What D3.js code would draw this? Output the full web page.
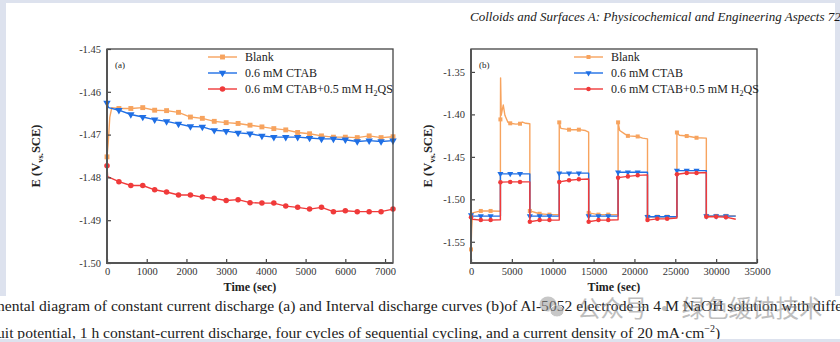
<!DOCTYPE html>
<html>
<head>
<meta charset="utf-8">
<script src="https://cdn.jsdelivr.net/npm/d3@7"></script>
<style>
  body { margin: 0; background: #fff; }
  text { font-family: "Liberation Serif", "Times New Roman", serif; }
</style>
</head>
<body>
<svg id="fig" width="840" height="342"></svg>
<script>
// ---- data ----
// (a) constant current discharge: [time (s), E (V)]
const blankA = [[0,-1.4752],[30,-1.472],[70,-1.466],[120,-1.4637],[300,-1.4639],[600,-1.4639],[900,-1.4637],[1200,-1.4643],[1500,-1.4644],[1800,-1.4648],[2100,-1.4659],[2400,-1.4662],[2700,-1.4669],[3000,-1.4672],[3300,-1.4674],[3600,-1.4678],[3900,-1.4682],[4200,-1.4686],[4500,-1.4689],[4800,-1.4695],[5100,-1.4698],[5400,-1.4703],[5700,-1.4706],[6000,-1.4706],[6300,-1.4707],[6600,-1.4703],[6900,-1.4707],[7200,-1.4705]];
const ctabA = [[0,-1.4626],[40,-1.4637],[300,-1.4643],[600,-1.4653],[900,-1.4659],[1200,-1.4665],[1500,-1.4669],[1800,-1.4675],[2100,-1.4681],[2400,-1.4682],[2700,-1.469],[3000,-1.4692],[3300,-1.4696],[3600,-1.4698],[3900,-1.4703],[4200,-1.4706],[4500,-1.4706],[4800,-1.4706],[5100,-1.4708],[5400,-1.471],[5700,-1.471],[6000,-1.4712],[6300,-1.4716],[6600,-1.4714],[6900,-1.4716],[7200,-1.4714]];
const h2qsA = [[0,-1.4773],[15,-1.4798],[300,-1.481],[600,-1.4819],[900,-1.4819],[1200,-1.4829],[1500,-1.4834],[1800,-1.4841],[2100,-1.4841],[2400,-1.4846],[2700,-1.4849],[3000,-1.4854],[3300,-1.4852],[3600,-1.4859],[3900,-1.486],[4200,-1.486],[4500,-1.4867],[4800,-1.487],[5100,-1.4874],[5400,-1.487],[5700,-1.488],[6000,-1.4878],[6300,-1.488],[6600,-1.488],[6900,-1.488],[7200,-1.4874]];

// (b) interval discharge: [time (s), E (V), has marker]
const blankB = [[0,-1.559,1],[80,-1.535],[200,-1.516],[1200,-1.5137,1],[2400,-1.5137,1],[3600,-1.514],
  [3600,-1.4059,1],[3620,-1.357],[3700,-1.401],[3800,-1.396],[3950,-1.389],[4150,-1.401],[4500,-1.409],[4800,-1.4105,1],[5500,-1.4115],[6000,-1.411,1],[6300,-1.409],[6700,-1.4105],[7200,-1.411],
  [7200,-1.5137,1],[8400,-1.517,1],[9600,-1.518,1],[10800,-1.518],
  [10800,-1.4094,1],[11000,-1.4165],[12000,-1.418,1],[13200,-1.418,1],[14000,-1.419],[14400,-1.421],
  [14400,-1.516,1],[15600,-1.518,1],[16800,-1.518,1],[18000,-1.518],
  [18000,-1.4094,1],[18200,-1.419],[18800,-1.423],[19200,-1.4253,1],[20400,-1.426,1],[21000,-1.428],[21600,-1.4288],
  [21600,-1.5205,1],[22800,-1.5205,1],[24000,-1.5205,1],[25200,-1.5205],
  [25200,-1.4213,1],[25500,-1.4245],[26400,-1.4255,1],[27600,-1.4275,1],[28800,-1.428],
  [28800,-1.5195,1],[30000,-1.5195,1],[31200,-1.5195,1],[32400,-1.5195]];
const ctabB = [[0,-1.5185,1],[100,-1.5198],[1200,-1.5198,1],[2400,-1.5198,1],[3600,-1.5198],
  [3600,-1.47,1],[4800,-1.47,1],[6000,-1.47,1],[7200,-1.47],
  [7200,-1.5198,1],[8400,-1.5198,1],[9600,-1.5198,1],[10800,-1.5198],
  [10800,-1.4692,1],[12000,-1.4692,1],[13200,-1.4692,1],[14400,-1.4692],
  [14400,-1.5198,1],[15600,-1.5198,1],[16800,-1.5198,1],[18000,-1.5198],
  [18000,-1.4681,1],[19200,-1.4681,1],[20400,-1.4681,1],[21600,-1.4681],
  [21600,-1.5205,1],[22800,-1.5205,1],[24000,-1.5205,1],[25200,-1.5205],
  [25200,-1.4662,1],[26400,-1.4662,1],[27600,-1.4662,1],[28800,-1.4662],
  [28800,-1.5198,1],[30000,-1.5198,1],[31200,-1.5198,1],[32400,-1.5198]];
const h2qsB = [[0,-1.521,1],[200,-1.5235],[1200,-1.5245,1],[2400,-1.5245,1],[3600,-1.524],
  [3600,-1.4798,1],[4800,-1.4795,1],[6000,-1.4795,1],[7200,-1.4795],
  [7200,-1.5265,1],[8400,-1.5245,1],[9600,-1.5245,1],[10800,-1.5245],
  [10800,-1.4795,1],[12000,-1.4775,1],[13200,-1.4765,1],[14400,-1.476],
  [14400,-1.5265,1],[15600,-1.5245,1],[16800,-1.5245,1],[18000,-1.524],
  [18000,-1.4745,1],[19200,-1.473,1],[20400,-1.4718,1],[21600,-1.4712],
  [21600,-1.5245,1],[22800,-1.523,1],[24000,-1.523,1],[25200,-1.522],
  [25200,-1.4705,1],[26400,-1.469,1],[27600,-1.469,1],[28800,-1.4685],
  [28800,-1.5205,1],[30000,-1.5205,1],[31200,-1.521,1],[32400,-1.5235]];

const seriesNames = ["Blank", "0.6 mM CTAB", "0.6 mM CTAB+0.5 mM H\u2082QS"];
const ticksAx = [0,1000,2000,3000,4000,5000,6000,7000];
const ticksAy = [-1.45,-1.46,-1.47,-1.48,-1.49,-1.50];
const ticksBx = [0,5000,10000,15000,20000,25000,30000,35000];
const ticksBy = [-1.35,-1.40,-1.45,-1.50,-1.55];

const colors = ["#f7a35e", "#1f6fe5", "#f03a3a"];
const symbols = [d3.symbolSquare, d3.symbolTriangle, d3.symbolCircle];

const svg = d3.select("#fig");

// page frame (viewer background)
svg.append("rect").attr("width", 840).attr("height", 342).attr("fill", "#fff");
svg.append("rect").attr("x", 0).attr("y", 0).attr("width", 840).attr("height", 3).attr("fill", "#dde2ee");
svg.append("rect").attr("x", 0).attr("y", 0).attr("width", 6).attr("height", 296).attr("fill", "#dde2ee");
svg.append("rect").attr("x", 835).attr("y", 0).attr("width", 5).attr("height", 296).attr("fill", "#dde2ee");

svg.append("text").attr("x", 470).attr("y", 21)
  .style("font-style", "italic").style("font-size", "13px").attr("fill", "#1a1a1a")
  .text("Colloids and Surfaces A: Physicochemical and Engineering Aspects 725");

function panel(opt) {
  const x = d3.scaleLinear().domain(opt.xDomain).range([opt.left, opt.right]);
  const y = d3.scaleLinear().domain(opt.yDomain).range([opt.bottom, opt.top]);
  const g = svg.append("g");

  const line = d3.line().x(d => x(d[0])).y(d => y(d[1]));
  opt.data.forEach((s, i) => {
    g.append("path").datum(s).attr("d", line)
      .attr("fill", "none").attr("stroke", colors[i]).attr("stroke-width", 1.4)
      .attr("stroke-linejoin", "round");
    g.selectAll(null).data(s.filter(opt.marked)).enter().append("path")
      .attr("d", d3.symbol().type(symbols[i]).size(opt.markSize))
      .attr("transform", d => `translate(${x(d[0])},${y(d[1])})` + (i === 1 ? " rotate(180)" : ""))
      .attr("fill", colors[i]);
  });

  // frame
  g.append("rect").attr("x", opt.left).attr("y", opt.top)
    .attr("width", opt.right - opt.left).attr("height", opt.bottom - opt.top)
    .attr("fill", "none").attr("stroke", "#444").attr("stroke-width", 1.3);

  const ax = g.append("g").attr("transform", `translate(0,${opt.bottom})`)
    .call(d3.axisBottom(x).tickValues(opt.xTicks).tickSizeInner(-4).tickSizeOuter(0).tickPadding(5).tickFormat(d3.format("d")));
  const ay = g.append("g").attr("transform", `translate(${opt.left},0)`)
    .call(d3.axisLeft(y).tickValues(opt.yTicks).tickSizeInner(-4).tickSizeOuter(0).tickPadding(6).tickFormat(d3.format(".2f")));
  [ax, ay].forEach(a => {
    a.select(".domain").remove();
    a.selectAll(".tick line").attr("stroke", "#444").attr("stroke-width", 1.2);
    a.selectAll(".tick text").attr("fill", "#333")
      .style("font-family", "'Liberation Serif', serif").style("font-size", "10.5px");
  });
  ay.selectAll(".tick text").text(d => d3.format(".2f")(d).replace("\u2212", "-"));

  g.append("line").attr("x1", opt.left).attr("x2", opt.left).attr("y1", opt.top).attr("y2", opt.bottom + 1)
    .attr("stroke", "#555").attr("stroke-width", 2);
  g.append("line").attr("x1", opt.left - 1).attr("x2", opt.right).attr("y1", opt.bottom).attr("y2", opt.bottom)
    .attr("stroke", "#555").attr("stroke-width", 2);

  // titles
  g.append("text").attr("x", (opt.left + opt.right) / 2).attr("y", opt.bottom + 28)
    .attr("text-anchor", "middle").style("font-weight", "bold").style("font-size", "12px").attr("fill", "#222")
    .text("Time (sec)");
  const yt = g.append("text").attr("transform", `translate(${opt.yTitleX},${(opt.top + opt.bottom) / 2}) rotate(-90)`)
    .attr("text-anchor", "middle").style("font-weight", "bold").style("font-size", "12.5px").attr("fill", "#222");
  yt.append("tspan").text("E (V");
  yt.append("tspan").attr("dy", 3).style("font-size", "8.5px").text("vs.");
  yt.append("tspan").attr("dy", -3).text("SCE)");

  g.append("text").attr("x", opt.left + 8).attr("y", 68)
    .style("font-size", "9px").attr("fill", "#222").text(opt.tag);

  // legend
  seriesNames.forEach((name, i) => {
    const ly = opt.legY + i * 16;
    g.append("line").attr("x1", opt.legX).attr("x2", opt.legX + 29).attr("y1", ly).attr("y2", ly)
      .attr("stroke", colors[i]).attr("stroke-width", 1.4);
    g.append("path").attr("d", d3.symbol().type(symbols[i]).size(opt.markSize))
      .attr("transform", `translate(${opt.legX + 14.5},${ly})` + (i === 1 ? " rotate(180)" : ""))
      .attr("fill", colors[i]);
    const t = g.append("text").attr("x", opt.legX + 37).attr("y", ly + 4)
      .style("font-size", "12px").attr("fill", "#222");
    if (i === 2) {
      t.append("tspan").text("0.6 mM CTAB+0.5 mM H");
      t.append("tspan").attr("dy", 3).style("font-size", "8px").text("2");
      t.append("tspan").attr("dy", -3).text("QS");
    } else {
      t.text(name);
    }
  });
}

panel({
  left: 107, right: 393, top: 49, bottom: 263,
  xDomain: [0, 7200], yDomain: [-1.50, -1.45],
  xTicks: ticksAx, yTicks: ticksAy,
  data: [blankA, ctabA, h2qsA],
  marked: d => d[0] % 300 === 0, markSize: 24,
  yTitleX: 40, tag: "(a)", legX: 208, legY: 57
});

panel({
  left: 471, right: 757, top: 49, bottom: 263,
  xDomain: [0, 35000], yDomain: [-1.575, -1.323],
  xTicks: ticksBx, yTicks: ticksBy,
  data: [blankB, ctabB, h2qsB],
  marked: d => d[2] === 1, markSize: 16,
  yTitleX: 432, tag: "(b)", legX: 574, legY: 57
});

// caption (cut by the viewer)
svg.append("text").attr("x", -3).attr("y", 311).style("font-size", "15.6px").attr("fill", "#222")
  .text("nental diagram of constant current discharge (a) and Interval discharge curves (b)of Al-5052 electrode in 4 M NaOH solution with diffe");
const cap2 = svg.append("text").attr("x", -3).attr("y", 338).style("font-size", "15.6px").attr("fill", "#222");
cap2.append("tspan").text("uit potential, 1 h constant-current discharge, four cycles of sequential cycling, and a current density of 20 mA\u00b7cm");
cap2.append("tspan").attr("dy", -6).style("font-size", "10px").text("\u22122");
cap2.append("tspan").attr("dy", 6).text(")");
svg.append("rect").attr("x", 0).attr("y", 339).attr("width", 840).attr("height", 3).attr("fill", "#dde2ee");

// watermark
const wm = svg.append("g").attr("opacity", 0.55);
wm.append("ellipse").attr("cx", 548).attr("cy", 304).attr("rx", 8.5).attr("ry", 7.5).attr("fill", "#9a9a9a");
wm.append("ellipse").attr("cx", 557).attr("cy", 311).attr("rx", 7).attr("ry", 6).attr("fill", "#9a9a9a")
  .attr("stroke", "#fff").attr("stroke-width", 1);
wm.append("text").attr("x", 577).attr("y", 317)
  .style("font-family", "'Noto Sans CJK SC', sans-serif").style("font-size", "23.5px").attr("fill", "#8a8a8a")
  .text("公众号 · 绿色缓蚀技术");
</script>
</body>
</html>
